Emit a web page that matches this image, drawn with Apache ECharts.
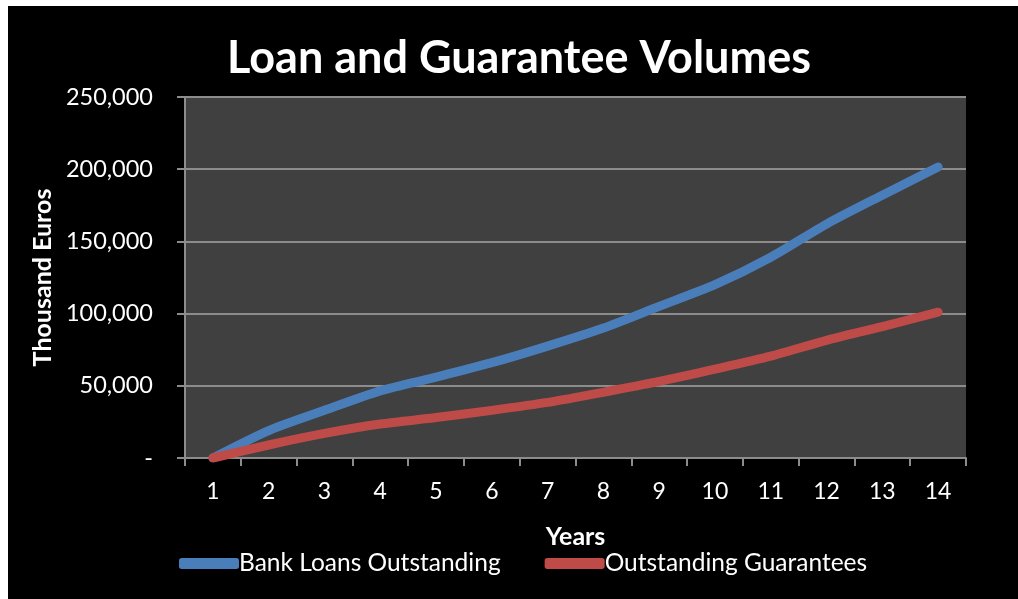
<!DOCTYPE html>
<html>
<head>
<meta charset="utf-8">
<script src="https://cdn.jsdelivr.net/npm/echarts@6/dist/echarts.min.js"></script>
<style>
  html, body { margin: 0; padding: 0; background: #fff; }
  #chart { position: absolute; left: 8px; top: 6px; width: 1010px; height: 593px; background: #000; }
</style>
</head>
<body>
<div id="chart"></div>
<script>
// Years 1..14, values in thousand euros
const years = ["1", "2", "3", "4", "5", "6", "7", "8", "9", "10", "11", "12", "13", "14"];
const bankLoans = [0, 19000, 33000, 46500, 56000, 66000, 77500, 90000, 105000, 120000, 139000, 162000, 182000, 201500];
const guarantees = [0, 9000, 17000, 23500, 28000, 33000, 38500, 45500, 53000, 61500, 70500, 81500, 91000, 101000];

const font = "Lato, 'Open Sans', sans-serif";
const chart = echarts.init(document.getElementById("chart"));

function lineSeries(name, data, color) {
  return {
    name: name,
    type: "line",
    data: data,
    smooth: 0.25,
    symbol: "none",
    lineStyle: { width: 9, color: color, cap: "round", join: "round" },
    itemStyle: { color: color }
  };
}

chart.setOption({
  backgroundColor: "#000",
  textStyle: { fontFamily: font },
  title: {
    text: "Loan and Guarantee Volumes",
    left: 214,
    top: 25,
    textStyle: { color: "#fff", fontSize: 45, fontWeight: "bold", fontFamily: font }
  },
  grid: { left: 177, top: 91, width: 781, height: 361, backgroundColor: "#404040", show: true, borderWidth: 0 },
  legend: {
    bottom: 18,
    left: 166,
    itemGap: 44,
    itemWidth: 60,
    itemHeight: 11,
    icon: "roundRect",
    textStyle: { color: "#fff", fontSize: 24.5, fontFamily: font, padding: [0, 0, 0, -5] },
    data: ["Bank Loans Outstanding", "Outstanding Guarantees"]
  },
  xAxis: {
    type: "category",
    data: years,
    boundaryGap: true,
    name: "Years",
    nameLocation: "middle",
    nameGap: 66,
    nameTextStyle: { color: "#fff", fontSize: 25, fontWeight: "bold" },
    axisLine: { lineStyle: { color: "#8c8c8c", width: 2 } },
    axisTick: { show: true, length: 8, lineStyle: { color: "#8c8c8c", width: 2 } },
    axisLabel: { color: "#fff", fontSize: 23, margin: 22 },
    splitLine: { show: false }
  },
  yAxis: {
    type: "value",
    min: 0,
    max: 250000,
    interval: 50000,
    name: "Thousand Euros",
    nameLocation: "middle",
    nameGap: 130,
    nameTextStyle: { color: "#fff", fontSize: 25, fontWeight: "bold" },
    axisLine: { show: true, lineStyle: { color: "#8c8c8c", width: 2 } },
    axisTick: { show: true, length: 8, lineStyle: { color: "#8c8c8c", width: 2 } },
    axisLabel: {
      color: "#fff",
      fontSize: 23.5,
      margin: 32,
      formatter: v => v === 0 ? "-" : v.toLocaleString("en-US")
    },
    splitLine: { lineStyle: { color: "#8c8c8c", width: 2 } }
  },
  series: [
    lineSeries("Bank Loans Outstanding", bankLoans, "#4a7ebb"),
    lineSeries("Outstanding Guarantees", guarantees, "#be4b48")
  ]
});
</script>
</body>
</html>
